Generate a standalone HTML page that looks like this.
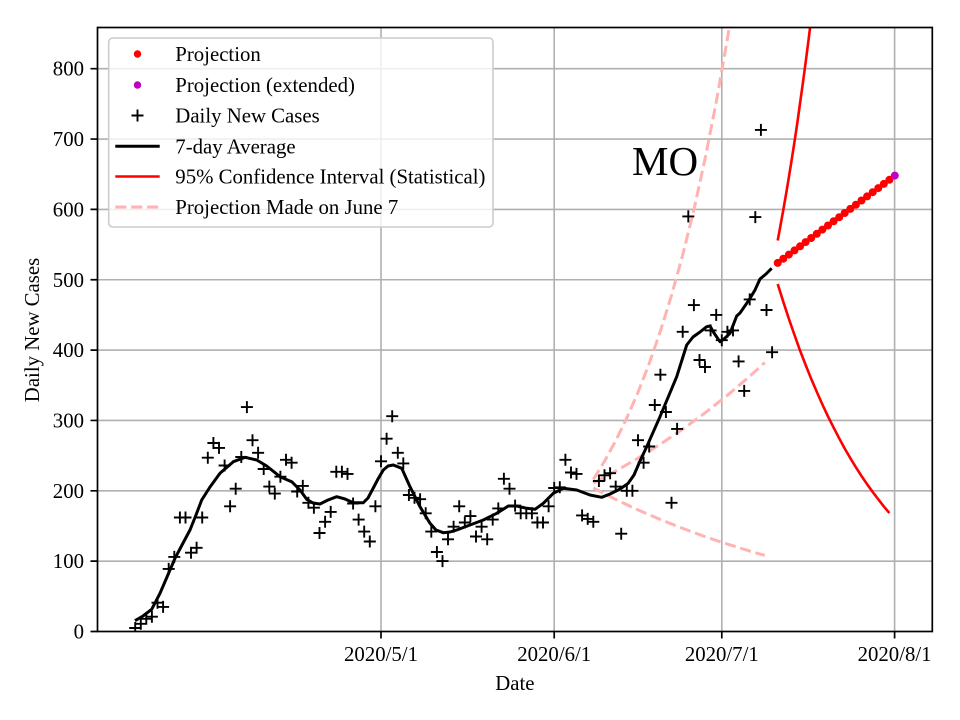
<!DOCTYPE html>
<html><head><meta charset="utf-8"><style>
html,body{margin:0;padding:0;background:#fff;}
svg{display:block;font-family:"Liberation Serif","DejaVu Serif",serif;}
</style></head><body>
<svg width="960" height="720" viewBox="0 0 960 720" xmlns="http://www.w3.org/2000/svg">
<defs><clipPath id="ax"><rect x="97.5" y="27.5" width="834.8" height="604"/></clipPath></defs>
<rect width="960" height="720" fill="#fff"/>
<!-- grid -->
<g stroke="#b0b0b0" stroke-width="1.6" fill="none">
<path d="M97.5 561.15H932.3M97.5 490.8H932.3M97.5 420.45H932.3M97.5 350.1H932.3M97.5 279.75H932.3M97.5 209.4H932.3M97.5 139.05H932.3M97.5 68.7H932.3"/>
<path d="M381 27.5V631.5M554.2 27.5V631.5M721.8 27.5V631.5M894.6 27.5V631.5"/>
</g>
<g clip-path="url(#ax)" fill="none">
<!-- pink dashed projection made on June 7 -->
<g stroke="#ffb3b3" stroke-width="3" stroke-dasharray="11.1 4.8">
<path d="M593.3 479.5L604.5 461.3L615.6 440.9L626.8 418L638 392.3L649.2 363.5L660.3 331.4L671.5 295.4L682.7 255L693.9 209.8L705 159.1L716.2 102.3L727.4 38.8L733 4.2"/>
<path d="M593.3 483.1L615.6 471.1L638 458.2L660.3 444.2L682.7 429.2L705 412.9L727.4 395.3L749.7 376.3L764.8 362.5"/>
<path d="M593.3 488L615.6 499.4L638 509.9L660.3 519.5L682.7 528.4L705 536.6L727.4 544.1L749.7 551.1L764.8 555.4"/>
</g>
<!-- daily new cases -->
<path stroke="#000" stroke-width="1.9" d="M129.2 628h12M135.2 622v12M134.8 623.8h12M140.8 617.8v12M140.3 618.8h12M146.3 612.8v12M145.9 616.7h12M151.9 610.7v12M151.5 602.7h12M157.5 596.7v12M157.1 606.9h12M163.1 600.9v12M162.7 568.9h12M168.7 562.9v12M168.3 556.9h12M174.3 550.9v12M173.9 517.5h12M179.9 511.5v12M179.5 517.5h12M185.5 511.5v12M185 552.7h12M191 546.7v12M190.6 547.8h12M196.6 541.8v12M196.2 517.5h12M202.2 511.5v12M201.8 457.7h12M207.8 451.7v12M207.4 443h12M213.4 437v12M213 447.9h12M219 441.9v12M218.6 465.5h12M224.6 459.5v12M224.1 506.3h12M230.1 500.3v12M229.7 488.7h12M235.7 482.7v12M235.3 457h12M241.3 451v12M240.9 407.1h12M246.9 401.1v12M246.5 440.2h12M252.5 434.2v12M252.1 452.8h12M258.1 446.8v12M257.7 469h12M263.7 463v12M263.3 486.6h12M269.3 480.6v12M268.8 493.6h12M274.8 487.6v12M274.4 476.7h12M280.4 470.7v12M280 459.8h12M286 453.8v12M285.6 462.7h12M291.6 456.7v12M291.2 491.5h12M297.2 485.5v12M296.8 485.9h12M302.8 479.9v12M302.4 502.8h12M308.4 496.8v12M307.9 507.7h12M313.9 501.7v12M313.5 533h12M319.5 527v12M319.1 521.8h12M325.1 515.8v12M324.7 511.9h12M330.7 505.9v12M330.3 471.8h12M336.3 465.8v12M335.9 471.8h12M341.9 465.8v12M341.5 473.9h12M347.5 467.9v12M347.1 503.5h12M353.1 497.5v12M352.6 519.6h12M358.6 513.6v12M358.2 531.6h12M364.2 525.6v12M363.8 541.5h12M369.8 535.5v12M369.4 506.3h12M375.4 500.3v12M375 461.3h12M381 455.3v12M380.6 438.7h12M386.6 432.7v12M386.2 416.2h12M392.2 410.2v12M391.8 452.8h12M397.8 446.8v12M397.3 463.4h12M403.3 457.4v12M402.9 495h12M408.9 489v12M408.5 497.8h12M414.5 491.8v12M414.1 499.2h12M420.1 493.2v12M419.7 513.3h12M425.7 507.3v12M425.3 531.6h12M431.3 525.6v12M430.9 552h12M436.9 546v12M436.5 561.1h12M442.5 555.1v12M442 539.3h12M448 533.3v12M447.6 526.7h12M453.6 520.7v12M453.2 506.3h12M459.2 500.3v12M458.8 522.5h12M464.8 516.5v12M464.4 516.1h12M470.4 510.1v12M470 536.5h12M476 530.5v12M475.6 526.7h12M481.6 520.7v12M481.2 539.3h12M487.2 533.3v12M486.7 519.6h12M492.7 513.6v12M492.3 508.4h12M498.3 502.4v12M497.9 478.8h12M503.9 472.8v12M503.5 488.7h12M509.5 482.7v12M509.1 505.6h12M515.1 499.6v12M514.7 513.3h12M520.7 507.3v12M520.3 513.3h12M526.3 507.3v12M525.9 513.3h12M531.9 507.3v12M531.4 522.5h12M537.4 516.5v12M537 522.5h12M543 516.5v12M542.6 506.3h12M548.6 500.3v12M548.2 488h12M554.2 482v12M553.8 487.3h12M559.8 481.3v12M559.4 459.8h12M565.4 453.8v12M565 472.5h12M571 466.5v12M570.5 473.9h12M576.5 467.9v12M576.1 515.4h12M582.1 509.4v12M581.7 518.9h12M587.7 512.9v12M587.3 521.8h12M593.3 515.8v12M592.9 481h12M598.9 475v12M598.5 475.3h12M604.5 469.3v12M604.1 473.2h12M610.1 467.2v12M609.7 486.6h12M615.7 480.6v12M615.2 533.7h12M621.2 527.7v12M620.8 490.8h12M626.8 484.8v12M626.4 490.8h12M632.4 484.8v12M632 440.2h12M638 434.2v12M637.6 462.7h12M643.6 456.7v12M643.2 446.5h12M649.2 440.5v12M648.8 405h12M654.8 399v12M654.4 374.7h12M660.4 368.7v12M659.9 412h12M665.9 406v12M665.5 502.8h12M671.5 496.8v12M671.1 428.9h12M677.1 422.9v12M676.7 331.8h12M682.7 325.8v12M682.3 216.4h12M688.3 210.4v12M687.9 305.1h12M693.9 299.1v12M693.5 360h12M699.5 354v12M699 367h12M705 361v12M704.6 330.4h12M710.6 324.4v12M710.2 314.9h12M716.2 308.9v12M715.8 340.2h12M721.8 334.2v12M721.4 331.8h12M727.4 325.8v12M727 330.4h12M733 324.4v12M732.6 361.4h12M738.6 355.4v12M738.2 390.9h12M744.2 384.9v12M743.7 299.4h12M749.7 293.4v12M749.3 217.1h12M755.3 211.1v12M754.9 129.9h12M760.9 123.9v12M760.5 310h12M766.5 304v12M766.1 352.2h12M772.1 346.2v12"/>
<!-- 7-day average -->
<path stroke="#000" stroke-width="3" stroke-linejoin="round" stroke-linecap="butt" d="M135 620.7L143 616L151.7 609.3L160 593.3L167 577L175 558.3L182 545L190 530L196 515L201.7 500L210 487L220 473.3L233.3 461.7L245 457.3L256.7 460L266.7 466L280 476.7L291.7 481.7L300 490L306.7 499.3L313 503L320 504L328 500L336.7 496.7L345 499L353.3 502.7L363.3 502.7L368 498L373.3 488L378 479L383.3 470L388 466L393.3 465L401.7 468.3L410 486.7L420 506.7L430 523.3L436 530L443.3 532.7L450 532L456.7 530L470 525L483.3 520L496.7 513.3L508.3 506L516.7 506L526.7 508.3L535 509.3L543.3 503.3L553.3 493.3L563.3 488.3L576.7 490L590 495L601.7 497.3L610 494L620 489L628 483.5L634 475L640 461L646.7 446.7L660 416.7L676.7 376.7L686.7 345L693 337L700 332L706.7 326.7L710 326L714 333L720 341.7L724 339L730 333.3L736.7 316L740 313L746.7 303.3L750 298.3L755 290L760 279L766 274L771.7 268.3"/>
<!-- CI -->
<g stroke="#ff0000" stroke-width="2.6" stroke-linejoin="round">
<path d="M777.7 240.5L780.5 225.4L783.3 209.9L786.1 193.8L788.9 177L791.7 159.7L794.5 141.7L797.3 123L800 103.6L802.8 83.5L805.6 62.7L808.4 41L811.2 18.6"/>
<path d="M777.7 284L783.3 301.8L788.9 318.9L794.5 335L800 350.4L805.6 364.9L811.2 378.8L816.8 391.9L822.4 404.5L828 416.4L833.6 427.6L839.2 438.3L844.7 448.5L850.3 458.1L855.9 467.3L861.5 476L867.1 484.2L872.7 492L878.3 499.4L883.8 506.4L889.4 513.1"/>
</g>
<!-- projection dots -->
<g fill="#ff0000">
<circle cx="777.7" cy="262.9" r="4"/><circle cx="783.3" cy="258.7" r="4"/><circle cx="788.9" cy="254.6" r="4"/><circle cx="794.5" cy="250.4" r="4"/><circle cx="800.1" cy="246.3" r="4"/><circle cx="805.6" cy="242.1" r="4"/><circle cx="811.2" cy="238" r="4"/><circle cx="816.8" cy="233.8" r="4"/><circle cx="822.4" cy="229.6" r="4"/><circle cx="828" cy="225.5" r="4"/><circle cx="833.6" cy="221.3" r="4"/><circle cx="839.2" cy="217.2" r="4"/><circle cx="844.7" cy="213" r="4"/><circle cx="850.3" cy="208.9" r="4"/><circle cx="855.9" cy="204.7" r="4"/><circle cx="861.5" cy="200.5" r="4"/><circle cx="867.1" cy="196.4" r="4"/><circle cx="872.7" cy="192.2" r="4"/><circle cx="878.3" cy="188.1" r="4"/><circle cx="883.8" cy="183.9" r="4"/><circle cx="889.4" cy="179.8" r="4"/>
</g>
<circle cx="894.8" cy="175.6" r="4" fill="#bf00bf"/>
</g>
<!-- MO label -->
<text x="632" y="175" font-size="41" fill="#000">MO</text>
<!-- spines -->
<rect x="97.5" y="27.5" width="834.8" height="604" fill="none" stroke="#000" stroke-width="1.7"/>
<!-- ticks -->
<g stroke="#000" stroke-width="1.7">
<path d="M90.5 631.5H97.5M90.5 561.15H97.5M90.5 490.8H97.5M90.5 420.45H97.5M90.5 350.1H97.5M90.5 279.75H97.5M90.5 209.4H97.5M90.5 139.05H97.5M90.5 68.7H97.5"/>
<path d="M381 631.5V638.5M554.2 631.5V638.5M721.8 631.5V638.5M894.6 631.5V638.5"/>
</g>
<g font-size="20.8" fill="#000" text-anchor="end">
<text x="84" y="638.5">0</text>
<text x="84" y="568.2">100</text>
<text x="84" y="497.8">200</text>
<text x="84" y="427.5">300</text>
<text x="84" y="357.1">400</text>
<text x="84" y="286.8">500</text>
<text x="84" y="216.4">600</text>
<text x="84" y="146.1">700</text>
<text x="84" y="75.7">800</text>
</g>
<g font-size="20.8" fill="#000" text-anchor="middle">
<text x="381" y="661">2020/5/1</text>
<text x="554.2" y="661">2020/6/1</text>
<text x="721.8" y="661">2020/7/1</text>
<text x="894.6" y="661">2020/8/1</text>
<text x="514.9" y="690">Date</text>
<text transform="translate(39 330) rotate(-90)">Daily New Cases</text>
</g>
<!-- legend -->
<rect x="108.7" y="38" width="384.3" height="189" rx="4" ry="4" fill="#fff" fill-opacity="0.8" stroke="#cccccc" stroke-width="1.6"/>
<circle cx="137.5" cy="54" r="3.7" fill="#ff0000"/>
<circle cx="137.5" cy="85" r="3.7" fill="#bf00bf"/>
<path d="M131.5 115.5h12M137.5 109.5v12" stroke="#000" stroke-width="1.9"/>
<path d="M115.3 146.3H159.7" stroke="#000" stroke-width="3"/>
<path d="M115.3 176.5H159.7" stroke="#ff0000" stroke-width="2.6"/>
<path d="M115.3 207H159.7" stroke="#ffb3b3" stroke-width="3" stroke-dasharray="11.1 4.8"/>
<g font-size="20.8" fill="#000">
<text x="175.3" y="61">Projection</text>
<text x="175.3" y="92">Projection (extended)</text>
<text x="175.3" y="122.5">Daily New Cases</text>
<text x="175.3" y="153.3">7-day Average</text>
<text x="175.3" y="183.5">95% Confidence Interval (Statistical)</text>
<text x="175.3" y="214">Projection Made on June 7</text>
</g>
</svg>
</body></html>
